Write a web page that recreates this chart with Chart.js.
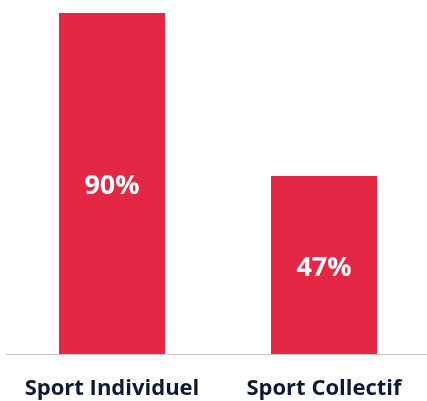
<!DOCTYPE html>
<html>
<head>
<meta charset="utf-8">
<script src="https://cdn.jsdelivr.net/npm/chart.js@4"></script>
<style>
    html, body { margin: 0; padding: 0; background: #fff; overflow: hidden; }
    #chart { display: block; }
</style>
</head>
<body>
<canvas id="chart" width="432" height="401"></canvas>
<script>
// Chart data
const categories = ['Sport Individuel', 'Sport Collectif'];
const percentValues = [90, 47];

// Draw the percentage inside each bar, centered
const valueLabels = {
    id: 'valueLabels',
    afterDatasetsDraw(chart) {
        const ctx = chart.ctx;
        const meta = chart.getDatasetMeta(0);
        ctx.save();
        ctx.fillStyle = '#ffffff';
        ctx.font = 'bold 27px "Open Sans"';
        ctx.textAlign = 'center';
        ctx.textBaseline = 'middle';
        meta.data.forEach((bar, i) => {
            const { x, y, base } = bar.getProps(['x', 'y', 'base'], true);
            ctx.fillText(percentValues[i] + '%', x, (y + base) / 2 + 3);
        });
        ctx.restore();
    }
};

new Chart(document.getElementById('chart'), {
    type: 'bar',
    data: {
        labels: categories,
        datasets: [{
            data: percentValues,
            backgroundColor: '#e52645',
            barPercentage: 0.5,
            categoryPercentage: 1
        }]
    },
    options: {
        responsive: false,
        animation: false,
        layout: { padding: { top: 13, left: 6, right: 2, bottom: 0 } },
        plugins: { legend: { display: false }, tooltip: { enabled: false } },
        scales: {
            x: {
                grid: { display: false },
                border: { color: '#c4c4c4', width: 1 },
                ticks: {
                    color: '#0e1a35',
                    font: { family: 'Open Sans', weight: 'bold', size: 22 },
                    padding: 14
                },
                afterFit(scale) { scale.height = 47; }
            },
            y: {
                display: false,
                min: 0,
                max: 90
            }
        }
    },
    plugins: [valueLabels]
});
</script>
</body>
</html>
